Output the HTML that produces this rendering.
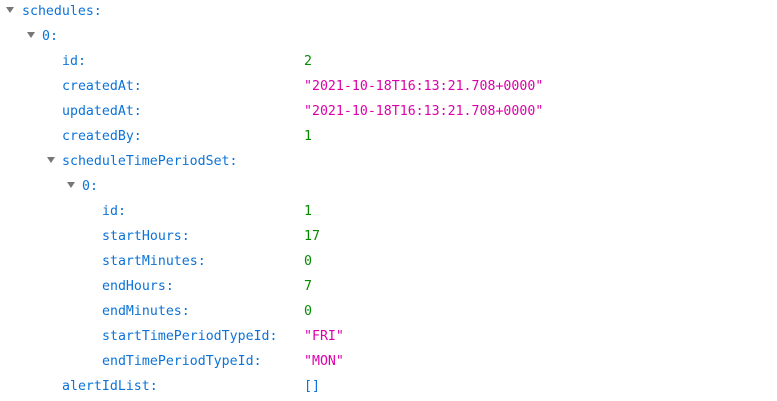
<!DOCTYPE html>
<html><head><style>
body{margin:0;background:#fff;width:777px;height:401px;overflow:hidden;font-family:"DejaVu Sans Mono","Liberation Mono",monospace;font-size:13.25px;}
.r{position:absolute;height:25px;line-height:25px;white-space:pre;}
.k{color:#0b73d9;}
.s{color:#dd00a9;}
.n{color:#058b00;}
.a{color:#0b73d9;}
.t{position:absolute;width:0;height:0;border-left:4.5px solid transparent;border-right:4.5px solid transparent;border-top:6px solid #777;}
</style></head><body>
<div class="t" style="left:6px;top:7px"></div><div class="r k" style="left:22px;top:-1px">schedules:</div>
<div class="t" style="left:27px;top:32px"></div><div class="r k" style="left:42px;top:24px">0:</div>
<div class="r k" style="left:62px;top:49px">id:</div><div class="r n" style="left:304px;top:49px">2</div>
<div class="r k" style="left:62px;top:74px">createdAt:</div><div class="r s" style="left:304px;top:74px">"2021-10-18T16:13:21.708+0000"</div>
<div class="r k" style="left:62px;top:99px">updatedAt:</div><div class="r s" style="left:304px;top:99px">"2021-10-18T16:13:21.708+0000"</div>
<div class="r k" style="left:62px;top:124px">createdBy:</div><div class="r n" style="left:304px;top:124px">1</div>
<div class="t" style="left:47px;top:157px"></div><div class="r k" style="left:62px;top:149px">scheduleTimePeriodSet:</div>
<div class="t" style="left:67px;top:182px"></div><div class="r k" style="left:82px;top:174px">0:</div>
<div class="r k" style="left:102px;top:199px">id:</div><div class="r n" style="left:304px;top:199px">1</div>
<div class="r k" style="left:102px;top:224px">startHours:</div><div class="r n" style="left:304px;top:224px">17</div>
<div class="r k" style="left:102px;top:249px">startMinutes:</div><div class="r n" style="left:304px;top:249px">0</div>
<div class="r k" style="left:102px;top:274px">endHours:</div><div class="r n" style="left:304px;top:274px">7</div>
<div class="r k" style="left:102px;top:299px">endMinutes:</div><div class="r n" style="left:304px;top:299px">0</div>
<div class="r k" style="left:102px;top:324px">startTimePeriodTypeId:</div><div class="r s" style="left:304px;top:324px">"FRI"</div>
<div class="r k" style="left:102px;top:349px">endTimePeriodTypeId:</div><div class="r s" style="left:304px;top:349px">"MON"</div>
<div class="r k" style="left:62px;top:374px">alertIdList:</div><div class="r a" style="left:304px;top:374px">[]</div>
</body></html>
